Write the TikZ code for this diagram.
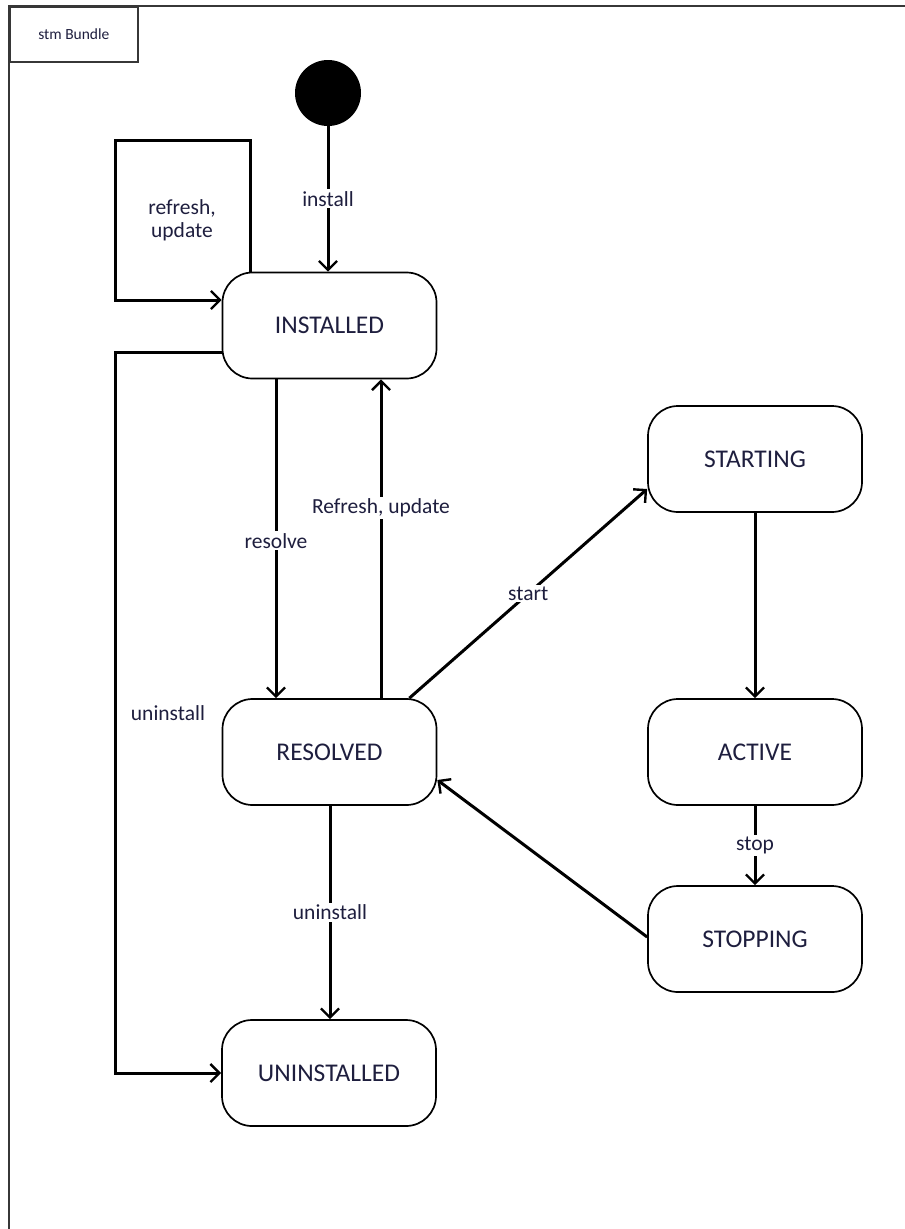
\documentclass[tikz,border=0pt]{standalone}
\usepackage{fontspec}
\setmainfont{Carlito}
\usetikzlibrary{arrows.meta,calc}
\definecolor{ink}{RGB}{30,30,62}
\definecolor{framegray}{RGB}{55,55,55}

\begin{document}
\begin{tikzpicture}[x=1pt,y=-1pt,
  state/.style={draw, line width=1.7pt, rounded corners=30pt,
    minimum width=214pt, minimum height=106pt, inner sep=0pt,
    font=\fontsize{25.5}{30}\selectfont, text=ink},
  trans/.style={line width=3pt,
    -{Straight Barb[length=9pt,width=18pt,line width=2.4pt]}},
  lbl/.style={font=\fontsize{21.5}{25}\selectfont, text=ink,
    fill=white, inner sep=2pt},
  freelbl/.style={lbl, fill=none, align=center},
]
\useasboundingbox (0,0) rectangle (905,1229);

% diagram frame and its name tab
\draw[framegray, line width=2.2pt] (9,1229) -- (9,6) -- (905,6);
\node[draw=framegray, line width=1.7pt, anchor=north west,
  minimum width=128pt, minimum height=55pt, inner sep=0pt,
  font=\fontsize{15.5}{18}\selectfont, text=ink] (tab) at (9,6) {stm Bundle};

% states
\node[circle, fill=black, minimum size=66pt, inner sep=0pt] (init) at (328,93) {};
\node[state] (installed)   at (329.5,325.5) {INSTALLED};
\node[state] (resolved)    at (329.5,752)   {RESOLVED};
\node[state] (uninstalled) at (329,1073)    {UNINSTALLED};
\node[state] (starting)    at (755,459)     {STARTING};
\node[state] (active)      at (755,752)     {ACTIVE};
\node[state] (stopping)    at (755,939)     {STOPPING};

% helper coordinates for routed transitions
\coordinate (loopTop)  at (250,140);
\coordinate (loopLeft) at (115,300);
\coordinate (outerL)   at (115,352);
\coordinate (xRes)     at (276,0);
\coordinate (xRef)     at (381,0);
\coordinate (xUn)      at (330,0);

% transitions
\draw[trans] (init.south) -- (init.south |- installed.north)
  node[lbl, midway] {install};

\draw[trans] (installed.north -| loopTop) -- (loopTop) -| (loopLeft)
  -- (loopLeft -| installed.west);
\node[freelbl] (lblLoop) at (182,220) {refresh,\\[-2pt]update};

\draw[trans] (installed.west |- outerL) -- (outerL) |- (uninstalled.west);
\node[freelbl] (lblOuter) at (168,713) {uninstall};

\draw[trans] (installed.south -| xRes) -- (resolved.north -| xRes)
  node[lbl, pos=0.506] {resolve};

\draw[trans] (resolved.north -| xRef) -- (installed.south -| xRef)
  node[lbl, pos=0.597] {Refresh, update};

\draw[trans] ($(resolved.north east)+(-28,0)$) -- ($(starting.west)+(0,30)$)
  node[lbl, midway] {start};

\draw[trans] (starting.south) -- (active.north);

\draw[trans] (active.south) -- (stopping.north)
  node[lbl, midway] {stop};

\draw[trans] ($(stopping.west)+(0,-2)$) -- ($(resolved.east)+(0,28)$);

\draw[trans] (resolved.south -| xUn) -- (uninstalled.north -| xUn)
  node[lbl, midway] {uninstall};

\end{tikzpicture}
\end{document}
